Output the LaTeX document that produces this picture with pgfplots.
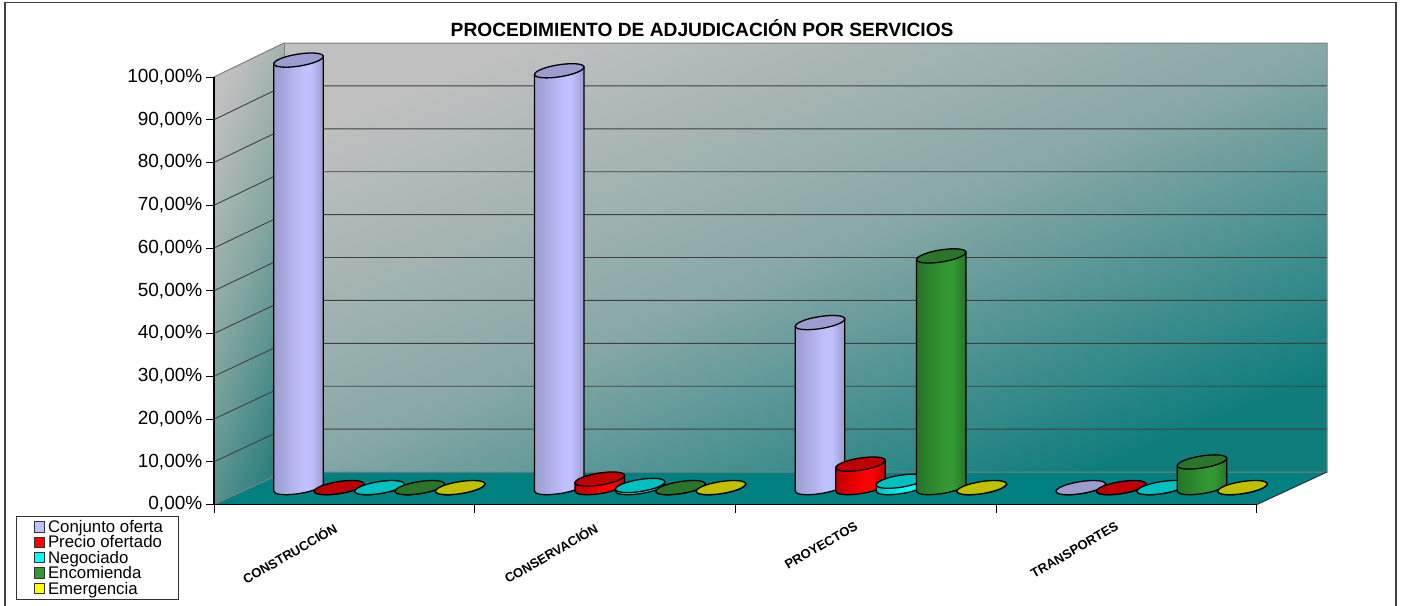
\documentclass[border=0pt]{standalone}
\usepackage{pgfplots}
\pgfplotsset{compat=1.18}
\usepackage{pgfplotstable}
\usepackage{fontspec}
\setmainfont{Liberation Sans}

% values per series, x = group + position inside the group
\pgfplotstableread{
x val
0.19 100
1.19 97.5
2.19 38.6
3.19 0
}\tconj
\pgfplotstableread{
x val
0.345 0
1.345 2
2.345 5.5
3.345 0
}\tprec
\pgfplotstableread{
x val
0.5 0
1.5 0.5
2.5 1.5
3.5 0
}\tnego
\pgfplotstableread{
x val
0.655 0
1.655 0
2.655 54.2
3.655 6
}\tenco
\pgfplotstableread{
x val
0.81 0
1.81 0
2.81 0
3.81 0
}\temer

% cylinder mark: drawn downwards from the top of the value, \h is the value
\newcommand{\defcyl}[4]{%
  \definecolor{#1edge}{HTML}{#2}%
  \definecolor{#1mid}{HTML}{#3}%
  \definecolor{#1top}{HTML}{#4}%
  \pgfdeclarehorizontalshading{#1shade}{100bp}{color(0bp)=(#1edge); color(25bp)=(#1edge); color(55bp)=(#1mid); color(62bp)=(#1mid); color(75bp)=(#1edge); color(100bp)=(#1edge)}%
  \pgfdeclareplotmark{cyl#1}{%
    \pgfmathsetmacro\hh{\h*4.275}%
    \pgfsetlinewidth{1.3pt}\pgfsetstrokecolor{black}%
    \pgfpathmoveto{\pgfpoint{-24.71pt}{-3.68pt}}%
    \pgfpathlineto{\pgfpoint{-24.71pt}{-3.68pt-\hh pt}}%
    \pgfpatharcaxes{177.83}{357.83}{\pgfpoint{24.69pt}{3.91pt}}{\pgfpoint{-0.94pt}{5.93pt}}%
    \pgfpathlineto{\pgfpoint{24.71pt}{3.68pt}}%
    \pgfpathclose
    \pgfshadepath{#1shade}{0}\pgfusepath{stroke}%
    \pgfpathellipse{\pgfpointorigin}{\pgfpoint{24.69pt}{3.91pt}}{\pgfpoint{-0.94pt}{5.93pt}}%
    \pgfsetfillcolor{#1top}\pgfusepath{fill,stroke}%
  }%
}
\defcyl{conj}{9C9CCF}{C0C0FF}{9C9CCF}
\defcyl{prec}{C00000}{FF0000}{C00000}
\defcyl{nego}{00C0C0}{00FFFF}{00C0C0}
\defcyl{enco}{267326}{339933}{2A752A}
\defcyl{emer}{C0C000}{FFFF00}{C0C000}

\pgfplotsset{cyl/.style={scatter,only marks,mark=cyl#1,
  visualization depends on={rawy \as \h}}}

\begin{document}
\begin{tikzpicture}
\useasboundingbox (0pt,0pt) rectangle (1404pt,-605pt);
\begin{scope}[x=1pt,y=-1pt]
  \draw[color=black!75,line width=1.6pt] (5,2.5) rectangle (1396,615);
  % walls and floor
  \shade[top color={rgb,255:red,192;green,192;blue,192},bottom color={rgb,255:red,16;green,125;blue,125},middle color={rgb,255:red,136;green,168;blue,166},shading angle=22]
    (284,43) rectangle (1327,472);
  \shade[top color={rgb,255:red,192;green,192;blue,192},bottom color={rgb,255:red,45;green,128;blue,125},middle color={rgb,255:red,130;green,165;blue,160},shading angle=70]
    (214,77) -- (284,43) -- (284,472) -- (214,504.5) -- cycle;
  \fill[color={rgb,255:red,0;green,128;blue,128}] (214,504.5) -- (284,472) -- (1327,472) -- (1257,504.5) -- cycle;
  \foreach \k in {1,...,9}
    \draw[color=black!75,line width=0.9pt] (214,504.5-42.75*\k) -- (284,472-42.9*\k) -- (1327,472-42.9*\k);
  \draw[color=gray,line width=1pt] (214,504.5) -- (284,472) -- (1327,472) -- (1327,43) -- (284,43) -- (214,77) -- cycle;
  \draw[color=gray,line width=1pt] (284,43) -- (284,472);
  \draw[color=black!80,line width=1pt] (1257,504.5) -- (1327,472);
\end{scope}

% front plane: ticks, labels, legend
\begin{axis}[
    at={(214pt,-504.5pt)},
    anchor=origin,
    scale only axis,
    width=1043pt,
    height=427.5pt,
    xmin=0, xmax=4,
    ymin=0, ymax=100,
    clip=false,
    axis x line*=bottom,
    axis y line*=left,
    axis line style={black,line width=1.2pt,-},
    tick align=outside,
    major tick length=8pt,
    tick style={black,line width=1pt},
    ytick={0,10,...,100},
    yticklabels={{0,00\%},{10,00\%},{20,00\%},{30,00\%},{40,00\%},{50,00\%},{60,00\%},{70,00\%},{80,00\%},{90,00\%},{100,00\%}},
    yticklabel style={font=\fontsize{19}{19}\selectfont,inner xsep=3.5pt},
    xtick={0,1,2,3,4},
    xticklabels={},
    extra x ticks={0.5,1.5,2.5,3.5},
    extra x tick labels={CONSTRUCCIÓN,CONSERVACIÓN,PROYECTOS,TRANSPORTES},
    extra x tick style={major tick length=0pt,
      xticklabel style={rotate=30,anchor=north east,font=\bfseries\fontsize{13}{14}\selectfont,inner sep=0pt,yshift=-8.5pt,xshift=-18.5pt}},
    title={PROCEDIMIENTO DE ADJUDICACIÓN POR SERVICIOS},
    title style={at={(axis description cs:0.468,1.1)},anchor=center,yshift=0pt,font=\bfseries\fontsize{19.2}{20}\selectfont},
    legend style={at={(axis description cs:-0.1898,-0.2234)},anchor=south west,
      draw=black!80,line width=1pt,fill=white,inner xsep=14pt,inner ysep=4pt,
      row sep=1.7pt,font=\fontsize{16.8}{16.8}\selectfont,
      nodes={inner ysep=0pt,inner xsep=2pt}},
    legend cell align=left,
    legend image code/.code={\path (0pt,0pt) (14.5pt,0pt);\draw[#1,line width=1pt] (3pt,-5pt) rectangle (13.5pt,5.5pt);},
]
\addlegendimage{draw=black!80,fill=conjmid}
\addlegendentry{Conjunto oferta}
\addlegendimage{draw=black!80,fill=precmid}
\addlegendentry{Precio ofertado}
\addlegendimage{draw=black!80,fill=negomid}
\addlegendentry{Negociado}
\addlegendimage{draw=black!80,fill=encomid}
\addlegendentry{Encomienda}
\addlegendimage{draw=black!80,fill=emermid}
\addlegendentry{Emergencia}
\end{axis}

% the cylinders stand half way into the depth of the floor
\begin{axis}[
    at={(249pt,-487.6pt)},
    anchor=origin,
    scale only axis,
    width=1043pt,
    height=427.5pt,
    xmin=0, xmax=4,
    ymin=0, ymax=100,
    point meta min=0, point meta max=100,
    clip=false,
    hide axis,
]
\addplot[cyl=conj] table[x=x,y=val] {\tconj};
\addplot[cyl=prec] table[x=x,y=val] {\tprec};
\addplot[cyl=nego] table[x=x,y=val] {\tnego};
\addplot[cyl=enco] table[x=x,y=val] {\tenco};
\addplot[cyl=emer] table[x=x,y=val] {\temer};
\end{axis}
\end{tikzpicture}
\end{document}
